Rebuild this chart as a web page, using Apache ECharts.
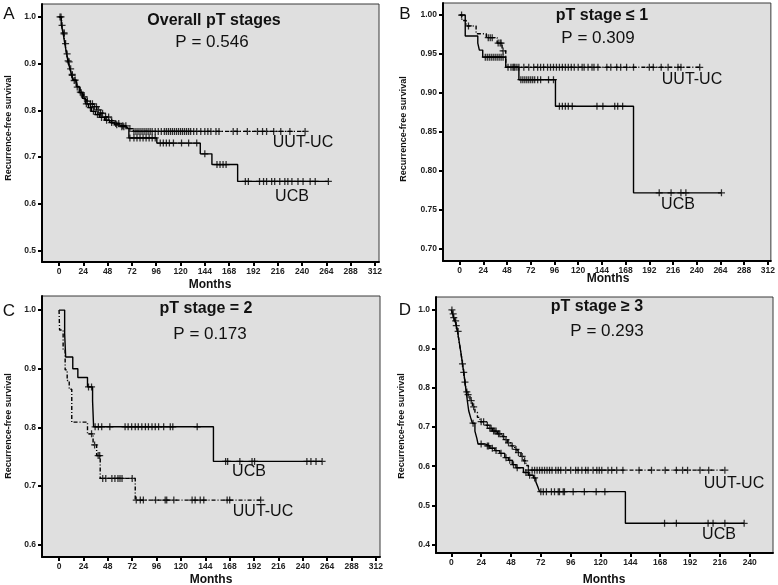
<!DOCTYPE html>
<html>
<head>
<meta charset="utf-8">
<title>Recurrence-free survival by pT stage</title>
<script src="https://cdn.jsdelivr.net/npm/echarts@6.0.0/dist/echarts.min.js"></script>
<style>
html, body { margin: 0; padding: 0; background: #fff; }
#chart { width: 778px; height: 585px; }
</style>
</head>
<body>
<div id="chart"></div>
<script>
// ---- data: [month, survival] at each drop, censor times in months ----
// A: overall pT stages
var aUcb = [[0,1],[2.2,.985],[4,.966],[5.5,.946],[7.2,.924],[8.8,.906],[10.5,.891],[12.2,.877],[14,.865],[17,.851],[20,.838],[23,.826],[26,.814],[29,.806],[32,.798],[36,.791],[40,.785],[45,.779],[50,.774],[55,.769],[60,.765],[66,.761],[69,.741],[96.6,.73],[139.5,.707],[151,.684],[176.4,.648],[266,.648]];
var aUut = [[0,1],[2.6,.982],[4.3,.964],[5.9,.943],[7.6,.921],[9.2,.904],[10.9,.889],[12.5,.875],[14.2,.864],[17.5,.85],[20.8,.839],[24,.829],[27.4,.82],[30.7,.814],[34,.808],[37.3,.801],[40.6,.794],[45.5,.786],[50.5,.778],[55.4,.772],[60.4,.767],[67,.761],[73.5,.755],[243,.755]];
var aUcbCens = [2, 5, 9, 13, 16, 22, 27, 31, 34, 38, 42, 47, 52, 57, 62, 64, 70, 74, 77, 80, 83, 86, 89, 92, 95, 100, 103, 106, 109, 113, 121, 128, 136, 144, 156, 159, 162, 165, 184, 187, 198, 202, 205, 210, 213, 218, 223, 226, 230, 236, 241, 248, 253, 266];
var aUutCens = [1, 3, 5, 6.5, 8, 10, 11.5, 13, 15, 18, 21, 25, 28, 31, 33, 35, 37, 39, 41, 43, 46, 49, 52, 56, 59, 63, 66, 70, 74, 76, 78, 80, 82, 84, 86, 88, 90, 92, 95, 98, 101, 104, 106, 108, 110, 112, 114, 116, 118, 120, 122, 124, 126, 128, 130, 133, 136, 140, 144, 147, 150, 155, 158, 172, 176, 186, 196, 201, 205, 212, 219, 228, 243];

// B: pT stage <= 1
var bUcb = [[0,1],[5.7,.973],[18.4,.964],[20,.955],[23.4,.946],[46.7,.933],[60,.917],[97,.883],[176,.772],[265,.772]];
var bUut = [[0,1],[2.3,.993],[6.7,.986],[16.7,.976],[27,.971],[38,.964],[43,.954],[46.7,.933],[243,.933]];
var bUcbCens = [26, 28, 30, 32, 34, 36, 38, 40, 42, 44, 49, 52, 55, 58, 62, 64, 66, 68, 70, 72, 74, 76, 79, 82, 90, 95, 101, 104, 107, 110, 114, 139, 145, 157, 160, 165, 202, 214, 224, 229, 265];
var bUutCens = [2, 9, 29, 31, 33, 39, 41, 42, 44, 54, 56, 60, 65, 70, 75, 79, 82, 85, 89, 92, 95, 98, 101, 104, 107, 110, 113, 116, 120, 124, 126, 130, 134, 136, 140, 149, 153, 159, 163, 169, 176, 192, 196, 204, 211, 221, 224, 243];

// C: pT stage = 2
var cUcb = [[0,1],[5.5,.96],[6.5,.92],[13.5,.9],[18.5,.885],[28,.869],[33,.845],[34,.801],[152,.742],[259,.742]];
var cUut = [[0,1],[0.5,.966],[4,.932],[6,.898],[8,.88],[10,.865],[12.5,.809],[28,.789],[33.5,.77],[37,.752],[40.5,.713],[75,.676],[198.5,.676]];
var cUcbCens = [29, 32, 35.5, 38.7, 42, 50, 65, 68, 71.5, 75, 78, 81.5, 85, 88, 91.5, 94.7, 98, 103, 109.5, 112, 136, 164, 166, 178, 190, 192.5, 244, 248, 253, 259];
var cUutCens = [32, 35, 38.5, 40, 43, 46, 52, 55, 58, 60, 62, 72, 76, 80, 83, 95, 104.5, 106, 113, 131, 134, 139, 142.5, 165.5, 168, 198.5];

// D: pT stage >= 3
var dUcb = [[0,1],[1,.99],[2,.98],[3,.972],[4,.96],[5,.945],[6,.925],[7,.905],[8,.885],[9,.862],[10,.84],[11,.815],[12,.79],[13,.765],[14,.742],[15.5,.725],[17,.71],[19,.69],[20.5,.672],[21.5,.657],[27,.652],[31,.646],[35,.64],[39,.633],[43,.622],[46,.615],[49,.604],[52,.596],[58,.584],[62,.577],[66,.57],[68,.56],[69.5,.548],[71,.535],[140,.454],[235.5,.454]];
var dUut = [[0,1],[1,.99],[2,.98],[3,.972],[4,.96],[5,.945],[6,.925],[7,.905],[8,.885],[9,.862],[10,.84],[11,.815],[12,.795],[13,.783],[15,.768],[17,.752],[19,.738],[21,.725],[23,.714],[28,.705],[30,.697],[33,.69],[37,.683],[41,.676],[43,.668],[45,.66],[48,.652],[51,.643],[53,.635],[56,.625],[58,.614],[60,.602],[62,.59],[220,.59]];
var dUcbCens = [0.5, 1.5, 3.5, 10, 12.5, 17.5, 24, 29, 30, 33, 36, 40, 44, 47, 50, 53, 60, 63, 67, 72, 74, 76.5, 80.5, 83, 86, 87, 90, 91, 98, 107, 116.5, 123.5, 171.5, 181, 206.5, 210.5, 220, 235.5];
var dUutCens = [2, 4, 5.5, 9, 11, 13.5, 16, 18, 24, 26, 29, 31, 32, 34, 35, 36, 38, 39, 42, 44, 46, 49, 52, 54, 57, 59, 62, 65, 67, 69, 71, 73, 75, 77, 79, 81, 84, 86, 88, 92, 96, 100, 102, 105, 108, 110, 114, 117, 119, 121, 126, 129, 133, 138, 151, 161, 172, 181, 186, 190, 200, 207, 220];

// tick labels
var monthTicksLong = [0, 24, 48, 72, 96, 120, 144, 168, 192, 216, 240, 264, 288, 312];
var monthTicksShort = [0, 24, 48, 72, 96, 120, 144, 168, 192, 216, 240];
var survTicksA = [0.5, 0.6, 0.7, 0.8, 0.9, 1.0];
var survTicksB = [0.70, 0.75, 0.80, 0.85, 0.90, 0.95, 1.00];
var survTicksC = [0.6, 0.7, 0.8, 0.9, 1.0];
var survTicksD = [0.4, 0.5, 0.6, 0.7, 0.8, 0.9, 1.0];

var panelLetters = ['A', 'B', 'C', 'D'];
var panelTitles = ['Overall pT stages', 'pT stage \u2264 1', 'pT stage = 2', 'pT stage \u2265 3'];
var pValues = ['P = 0.546', 'P = 0.309', 'P = 0.173', 'P = 0.293'];

// survival value of a step curve at time t
function stepAt(curve, t) {
    var s = curve[0][1];
    for (var i = 0; i < curve.length; i++) {
        if (curve[i][0] <= t) s = curve[i][1];
    }
    return s;
}

function censorPoints(curve, times) {
    return times.map(function(t) { return [t, stepAt(curve, t)]; });
}

var panels = [
    { grid: {left: 42, top: 4, width: 337, height: 258}, x: [-16.8, 316], y: [0.4754, 1.0278],
      xTicks: monthTicksLong, yTicks: survTicksA, digits: 1,
      ucb: aUcb, uut: aUut, ucbCens: aUcbCens, uutCens: aUutCens,
      letter: [9, 14], title: [214, 21], p: [212, 42], months: [210, 285], yName: [9, 128],
      uutLabel: [303, 143], ucbLabel: [292, 197] },
    { grid: {left: 443, top: 3, width: 330, height: 258}, x: [-16.8, 315], y: [0.6846, 1.0154],
      xTicks: monthTicksLong, yTicks: survTicksB, digits: 2,
      ucb: bUcb, uut: bUut, ucbCens: bUcbCens, uutCens: bUutCens,
      letter: [405, 14], title: [602, 16], p: [598, 38], months: [608, 279], yName: [404, 129],
      uutLabel: [692, 80], ucbLabel: [678, 205] },
    { grid: {left: 42, top: 296, width: 338, height: 261}, x: [-16.8, 316], y: [0.579, 1.024],
      xTicks: monthTicksLong, yTicks: survTicksC, digits: 1,
      ucb: cUcb, uut: cUut, ucbCens: cUcbCens, uutCens: cUutCens,
      letter: [9, 311], title: [206, 309], p: [210, 334], months: [211, 580], yName: [9, 426],
      uutLabel: [263, 512], ucbLabel: [249, 472] },
    { grid: {left: 436, top: 297, width: 337, height: 256}, x: [-12.3, 258.7], y: [0.378, 1.033],
      xTicks: monthTicksShort, yTicks: survTicksD, digits: 1,
      ucb: dUcb, uut: dUut, ucbCens: dUcbCens, uutCens: dUutCens,
      letter: [405, 310], title: [597, 307], p: [607, 331], months: [604, 580], yName: [402, 426],
      uutLabel: [734, 484], ucbLabel: [719, 535] }
];

var plusSymbol = 'path://M0,4.1H10V5.9H0Z M4.1,0H5.9V10H4.1Z';
var labelFont = 'Liberation Sans, Arial, sans-serif';

var grids = [], xAxes = [], yAxes = [], series = [], graphics = [];

function addText(text, pos, font, rotate) {
    graphics.push({
        type: 'text', x: pos[0], y: pos[1], rotation: rotate || 0, silent: true,
        style: { text: text, x: 0, y: 0, font: font, fill: '#111',
                 textAlign: 'center', textVerticalAlign: 'middle', align: 'center', verticalAlign: 'middle' }
    });
}

panels.forEach(function(p, i) {
    grids.push({
        left: p.grid.left, top: p.grid.top, width: p.grid.width, height: p.grid.height,
        show: true, backgroundColor: '#dfdfdf', borderColor: '#3a3a3a', borderWidth: 1
    });
    xAxes.push({
        type: 'value', gridIndex: i, min: p.x[0], max: p.x[1],
        axisLine: { show: true, onZero: false, lineStyle: { color: '#000', width: 2 } },
        axisTick: { show: true, customValues: p.xTicks, length: 4, lineStyle: { color: '#000', width: 2 } },
        axisLabel: { customValues: p.xTicks, margin: 5, fontSize: 8.5, fontWeight: 'bold',
                     color: '#222', fontFamily: labelFont },
        splitLine: { show: false }
    });
    yAxes.push({
        type: 'value', gridIndex: i, min: p.y[0], max: p.y[1],
        axisLine: { show: true, onZero: false, lineStyle: { color: '#000', width: 2 } },
        axisTick: { show: true, customValues: p.yTicks, length: 4, lineStyle: { color: '#000', width: 2 } },
        axisLabel: { customValues: p.yTicks, margin: 6, fontSize: 8.5, fontWeight: 'bold', color: '#222',
                     fontFamily: labelFont,
                     formatter: (function(d) { return function(v) { return v.toFixed(d); }; })(p.digits) },
        splitLine: { show: false }
    });
    series.push({
        type: 'line', xAxisIndex: i, yAxisIndex: i, step: 'end', symbol: 'none', silent: true,
        data: p.ucb, lineStyle: { color: '#000', width: 1.4 }, z: 3
    });
    series.push({
        type: 'line', xAxisIndex: i, yAxisIndex: i, step: 'end', symbol: 'none', silent: true,
        data: p.uut, lineStyle: { color: '#000', width: 1.4, type: [4, 2, 1, 2] }, z: 3
    });
    series.push({
        type: 'scatter', xAxisIndex: i, yAxisIndex: i, symbol: plusSymbol, symbolSize: 7, silent: true,
        data: censorPoints(p.ucb, p.ucbCens), itemStyle: { color: '#000' }, z: 4
    });
    series.push({
        type: 'scatter', xAxisIndex: i, yAxisIndex: i, symbol: plusSymbol, symbolSize: 7, silent: true,
        data: censorPoints(p.uut, p.uutCens), itemStyle: { color: '#000' }, z: 4
    });

    addText(panelLetters[i], p.letter, '17px "Liberation Sans", Arial, sans-serif');
    addText(panelTitles[i], p.title, 'bold 16px "Liberation Sans", Arial, sans-serif');
    addText(pValues[i], p.p, '17px "Liberation Sans", Arial, sans-serif');
    addText('Months', p.months, 'bold 12px "Liberation Sans", Arial, sans-serif');
    addText('Recurrence-free survival', p.yName, 'bold 9px "Liberation Sans", Arial, sans-serif', Math.PI / 2);
    addText('UUT-UC', p.uutLabel, '16px "Liberation Sans", Arial, sans-serif');
    addText('UCB', p.ucbLabel, '16px "Liberation Sans", Arial, sans-serif');
});

var chart = echarts.init(document.getElementById('chart'), null, { renderer: 'canvas' });
chart.setOption({
    animation: false,
    backgroundColor: '#fff',
    grid: grids,
    xAxis: xAxes,
    yAxis: yAxes,
    series: series,
    graphic: { elements: graphics }
});
</script>
</body>
</html>
